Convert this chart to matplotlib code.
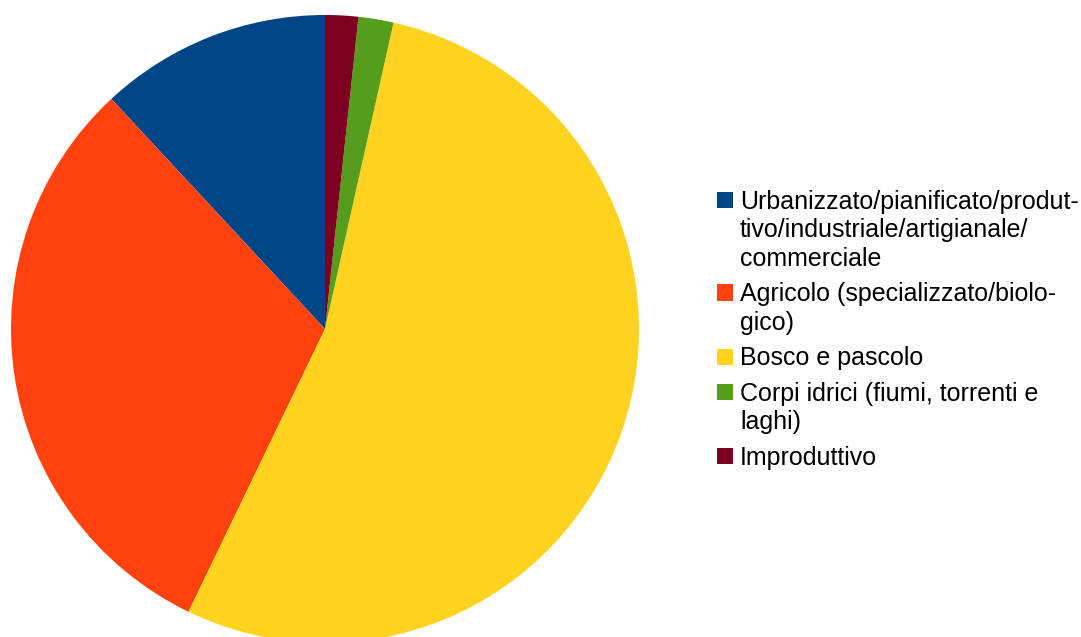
import matplotlib.pyplot as plt
from matplotlib.patches import Rectangle

# land use shares (percent)
categories = [
    'Urbanizzato/pianificato/produt-\ntivo/industriale/artigianale/\ncommerciale',
    'Agricolo (specializzato/biolo-\ngico)',
    'Bosco e pascolo',
    'Corpi idrici (fiumi, torrenti e\nlaghi)',
    'Improduttivo',
]
shares = [11.9, 30.9, 53.6, 1.8, 1.7]
colors = ['#004586', '#ff420e', '#ffd320', '#579d1c', '#7e0021']

W, H = 1081, 637
fig = plt.figure(figsize=(W / 100, H / 100), dpi=100)
fig.patch.set_facecolor('white')

# pie: centre (325, 329) px, radius 314 px
cx, cy, r = 325, 329, 314
ax = fig.add_axes([(cx - r) / W, 1 - (cy + r) / H, 2 * r / W, 2 * r / H])
ax.pie(shares, colors=colors, startangle=90, counterclock=True,
       wedgeprops={'linewidth': 0})
ax.set_xlim(-1, 1)
ax.set_ylim(-1, 1)
ax.set_aspect('equal')
ax.axis('off')


def px(x, y):
    return x / W, 1 - y / H


# hand-made legend: square marker beside the first line of each entry
line_step = 28.5
entry_gap = 35.5
y = 200
for label, col in zip(categories, colors):
    lines = label.split('\n')
    sx, sy = px(717, y + 8)
    fig.patches.append(Rectangle((sx, sy), 16 / W, 16 / H, transform=fig.transFigure,
                                 facecolor=col, edgecolor='none'))
    for i, ln in enumerate(lines):
        tx, ty = px(740, y + 9 + i * line_step)
        fig.text(tx, ty, ln, fontsize=18, family=['Liberation Sans', 'DejaVu Sans'],
                 color='black', va='baseline', ha='left')
    y += (len(lines) - 1) * line_step + entry_gap

fig.savefig('out.png', dpi=100)
